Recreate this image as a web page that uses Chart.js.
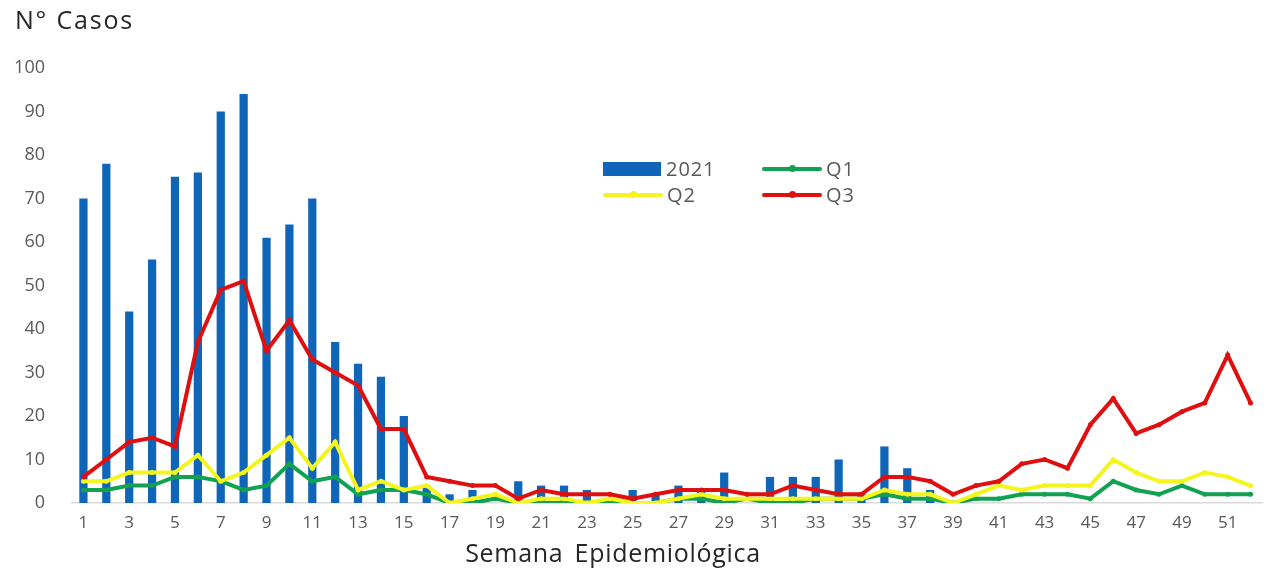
<!DOCTYPE html>
<html>
<head>
<meta charset="utf-8">
<script src="https://cdn.jsdelivr.net/npm/chart.js@4"></script>
<style>
  body { margin: 0; background: #fff; }
  #wrap { position: relative; width: 1269px; height: 571px; font-family: "Open Sans", sans-serif; }
  #yTitle { position: absolute; left: 15px; top: 2px; font-size: 25px; letter-spacing: 1.8px; color: #262626; }
  #xTitle { position: absolute; left: 613px; top: 535px; transform: translateX(-50%); font-size: 25px; letter-spacing: 0.7px; word-spacing: 4px; color: #262626; white-space: nowrap; }
  #legend { position: absolute; left: 603px; top: 155px; font-size: 20px; letter-spacing: 1px; color: #595959; }
  .item { position: absolute; white-space: nowrap; display: flex; align-items: center; }
  .box { width: 58px; height: 14px; background: #0F66B8; margin-right: 5px; }
  .ln { width: 60px; height: 4px; margin-right: 4px; position: relative; border-radius: 2px; }
  .ln::after { content: ''; position: absolute; left: 27px; top: -2px; width: 7px; height: 7px; border-radius: 50%; background: inherit; }
</style>
</head>
<body>
<div id="wrap">
  <canvas id="chart" width="1269" height="571"></canvas>
  <div id="yTitle">N° Casos</div>
  <div id="xTitle">Semana Epidemiológica</div>
  <div id="legend">
    <div class="item" style="left:0;top:0"><div class="box"></div>2021</div>
    <div class="item" style="left:159px;top:0"><div class="ln" style="background:#12A150"></div>Q1</div>
    <div class="item" style="left:0;top:26px"><div class="ln" style="background:#F5F51E"></div>Q2</div>
    <div class="item" style="left:159px;top:26px"><div class="ln" style="background:#E00F0F"></div>Q3</div>
  </div>
</div>
<script>
// semanas epidemiologicas 1..52
const weeks = Array.from({ length: 52 }, (_, i) => String(i + 1));

const cases2021 = [70, 78, 44, 56, 75, 76, 90, 94, 61, 64, 70, 37, 32, 29, 20, 4, 2, 3, 0, 5,
  4, 4, 3, 0, 3, 2, 4, 3, 7, 0, 6, 6, 6, 10, 2, 13, 8, 3, 0, 0,
  0, 0, 0, 0, 0, 0, 0, 0, 0, 0, 0, 0];

const q1 = [3, 3, 4, 4, 6, 6, 5, 3, 4, 9, 5, 6, 2, 3, 3, 2, 0, 0, 1, 0,
  0, 0, 0, 0, 0, 0, 1, 1, 0, 1, 0, 0, 1, 1, 1, 2, 1, 1, 0, 1,
  1, 2, 2, 2, 1, 5, 3, 2, 4, 2, 2, 2];

const q2 = [5, 5, 7, 7, 7, 11, 5, 7, 11, 15, 8, 14, 3, 5, 3, 4, 0, 1, 2, 0,
  1, 1, 0, 1, 0, 0, 1, 2, 1, 1, 1, 1, 1, 1, 1, 3, 2, 2, 0, 2,
  4, 3, 4, 4, 4, 10, 7, 5, 5, 7, 6, 4];

const q3 = [6, 10, 14, 15, 13, 37, 49, 51, 35, 42, 33, 30, 27, 17, 17, 6, 5, 4, 4, 1,
  3, 2, 2, 2, 1, 2, 3, 3, 3, 2, 2, 4, 3, 2, 2, 6, 6, 5, 2, 4,
  5, 9, 10, 8, 18, 24, 16, 18, 21, 23, 34, 23];

const yTicks = [0, 10, 20, 30, 40, 50, 60, 70, 80, 90, 100];

const tickFont = { family: 'Open Sans', size: 17 };

function lineSet(label, data, color, order) {
  return {
    type: 'line', label, data, order,
    borderColor: color, backgroundColor: color,
    borderWidth: 4, pointRadius: 2.5, pointBorderWidth: 0,
    tension: 0
  };
}

new Chart(document.getElementById('chart'), {
  data: {
    labels: weeks,
    datasets: [
      { type: 'bar', label: '2021', data: cases2021, backgroundColor: '#0F66B8',
        barPercentage: 0.36, categoryPercentage: 1, order: 4 },
      lineSet('Q1', q1, '#12A150', 3),
      lineSet('Q2', q2, '#F5F51E', 2),
      lineSet('Q3', q3, '#E00F0F', 1)
    ]
  },
  options: {
    responsive: false,
    animation: false,
    layout: { padding: { top: 68, right: 7, left: 0, bottom: 0 } },
    plugins: { legend: { display: false }, tooltip: { enabled: false } },
    scales: {
      x: {
        afterFit: s => { s.height = 68; },
        grid: { display: false },
        border: { display: true, color: '#D9D9D9', width: 1.5 },
        ticks: {
          color: '#595959', font: tickFont, autoSkip: false, maxRotation: 0, padding: 2,
          callback: (v, i) => (i % 2 === 0 ? weeks[i] : '')
        }
      },
      y: {
        min: 0, max: 100,
        afterBuildTicks: s => { s.ticks = yTicks.map(v => ({ value: v })); },
        afterFit: s => { s.width = 72; },
        grid: { display: false },
        border: { display: false },
        ticks: { color: '#595959', font: { family: 'Open Sans', size: 18 }, padding: 19 }
      }
    }
  }
});
</script>
</body>
</html>
